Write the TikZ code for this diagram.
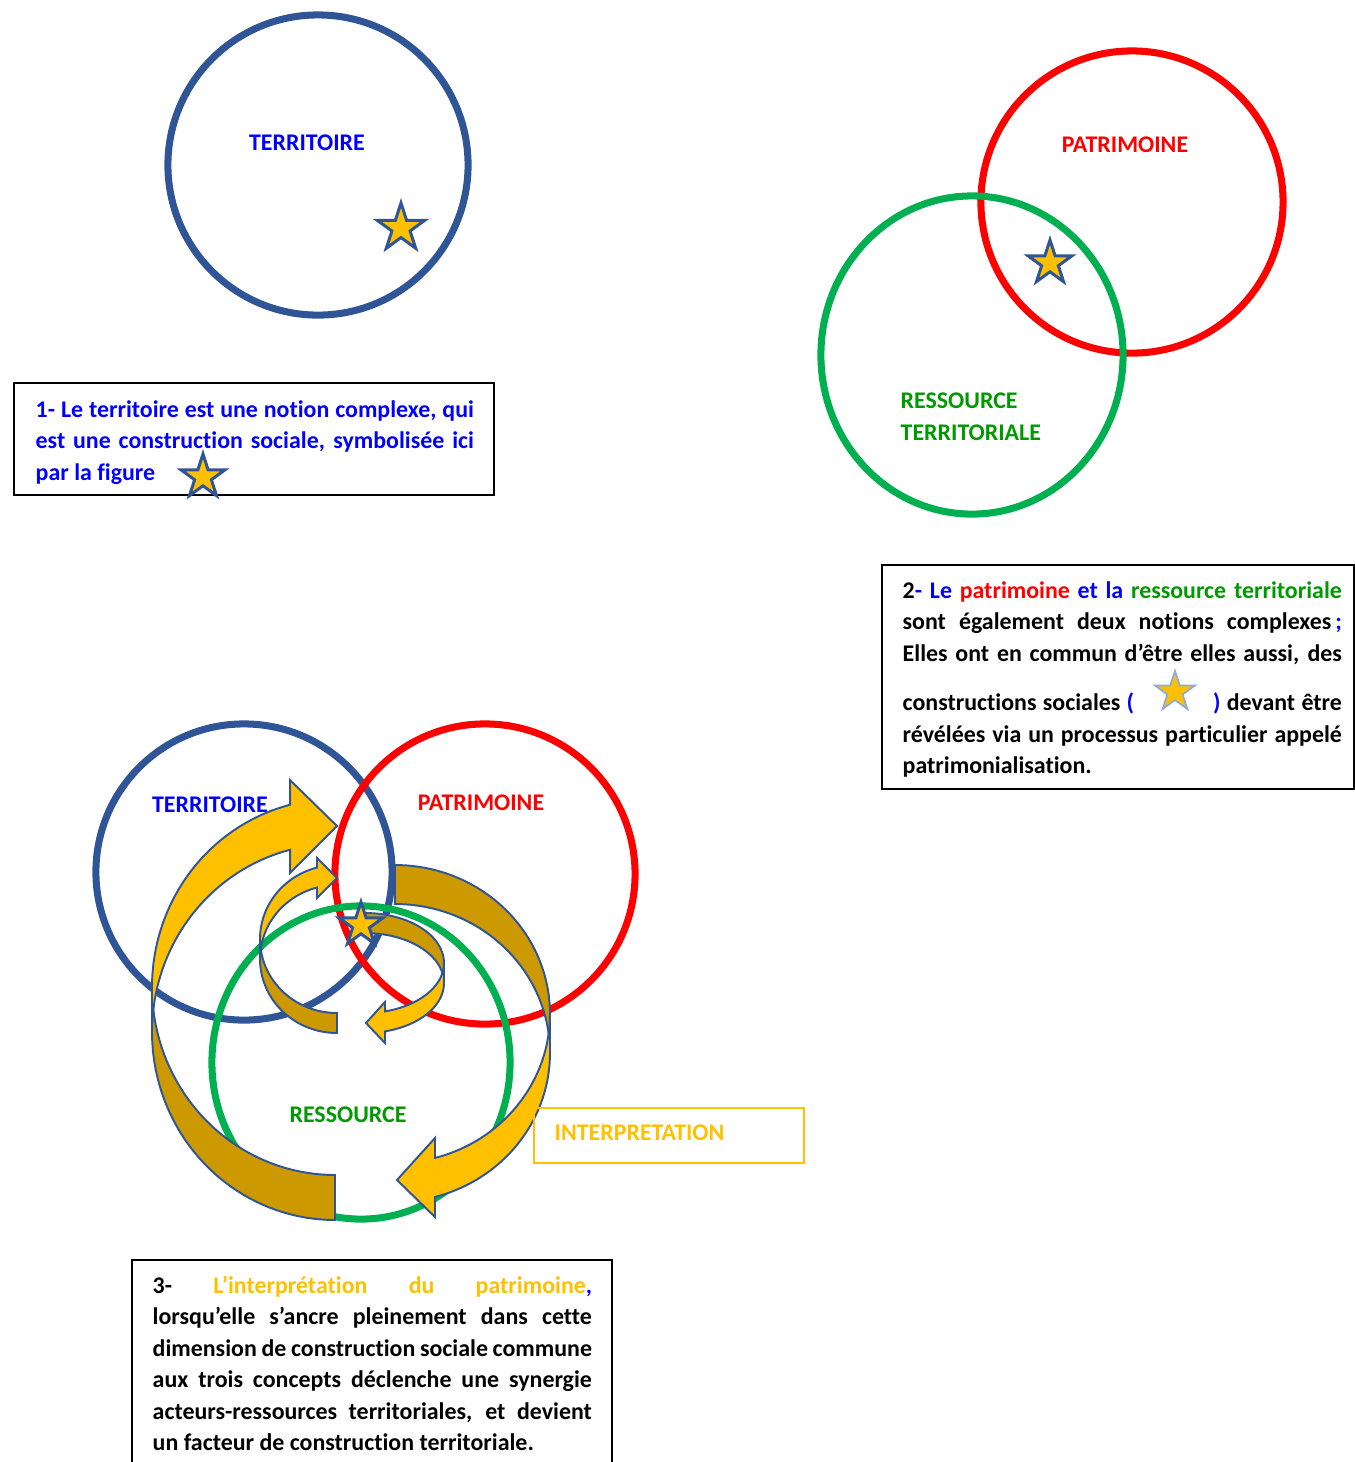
\documentclass[tikz,border=0pt]{standalone}
\usepackage{fontspec}
\setmainfont{Carlito}[Ligatures=NoCommon]
\usetikzlibrary{shapes.geometric}

\definecolor{ringblue}{RGB}{47,85,151}
\definecolor{ringred}{RGB}{255,0,0}
\definecolor{ringgreen}{RGB}{0,176,80}
\definecolor{txtblue}{RGB}{0,0,255}
\definecolor{txtgreen}{RGB}{0,153,0}
\definecolor{gold}{RGB}{255,192,0}
\definecolor{bronze}{RGB}{204,153,0}
\definecolor{paleblue}{RGB}{143,170,220}

\hyphenpenalty=10000
\exhyphenpenalty=10000
\tolerance=10000

\begin{document}
\begin{tikzpicture}[x=0.01cm, y=-0.01cm]
  % --- Styles (1 unit = 1 pixel of the original) ---
    \tikzset{
      ring/.style      = {line width=2pt},
      lbl/.style       = {font=\fontsize{6.8pt}{8.96pt}\selectfont\bfseries, inner sep=0pt},
      txt/.style       = {lbl, text width=4.39cm, align=justify, anchor=base west},
      boxline/.style   = {draw=black, line width=0.6pt},
      bandfront/.style = {fill=gold, draw=ringblue, line width=0.55pt},
      bandback/.style  = {fill=bronze, draw=ringblue, line width=0.55pt},
      starmark/.style  = {star, star points=5, star point ratio=2.618, inner sep=0pt,
                          fill=gold, draw=ringblue, line width=0.85pt}
    }
  \useasboundingbox (0,0) rectangle (1355,1462);

  % --- 1: territoire alone ---
    \draw[ring, ringblue] (318,165) circle[radius=1.5cm];
    \node[lbl, text=txtblue] (terrA) at (307,143) {TERRITOIRE};
    \node[starmark, minimum size=0.5cm] (starA) at (401,228) {};

    \draw[boxline] (14,383) rectangle (494,495);
    \node[txt, text width=4.38cm, text=txtblue] (noteA) at (35,417)
      {1- Le territoire est une notion complexe, qui\linebreak
       est une construction sociale, symbolisée ici\linebreak
       par la figure};
    \node[starmark, minimum size=0.46cm] (starNoteA) at (203,477) {};

  % --- 2: patrimoine and ressource territoriale ---
    \draw[ring, ringred] (1132,202) circle[radius=1.51cm];
    \draw[ring, ringgreen] (972,355) ellipse[x radius=1.51cm, y radius=1.59cm];
    \node[lbl, text=ringred] (patB) at (1125,145) {PATRIMOINE};
    \node[lbl, text=txtgreen, align=left, anchor=west] (resB) at (900,416.5)
      {RESSOURCE\\TERRITORIALE};
    \node[starmark, minimum size=0.46cm] (starB) at (1050,263) {};

    \draw[boxline] (882,565) rectangle (1354,789);
    \node[txt] (noteB) at (902,598)
      {2\textcolor{txtblue}{- Le} \textcolor{ringred}{patrimoine} \textcolor{txtblue}{et la}
       \textcolor{txtgreen}{ressource territoriale}\linebreak
       sont également deux notions complexes\,\textcolor{txtblue}{;}\linebreak
       Elles ont en commun d’être elles aussi, des\linebreak
       \rule{0pt}{0.43cm}constructions sociales \textcolor{txtblue}{(}\hspace{3.3em}\textcolor{txtblue}{)}
       devant être\linebreak
       révélées via un processus particulier appelé\linebreak
       patrimonialisation.};
    \node[starmark, minimum size=0.42cm, draw=paleblue, line width=0.5pt] (starNoteB) at (1175,692) {};

  % --- 3: the three concepts and the interpretation loops ---
    \draw[ring, ringblue] (244,872) circle[radius=1.48cm];
    \draw[ring, ringred] (485,874) circle[radius=1.5cm];
    \draw[ring, ringgreen] (361,1062.5) ellipse[x radius=1.49cm, y radius=1.565cm];

    % big loop on the left (back part, then front part)
    \filldraw[bandback] (152,987)
      -- plot[domain=180:90, samples=40, variable=\t] ({335+183*cos(\t)}, {987+188*sin(\t)})
      -- plot[domain=90:180, samples=40, variable=\t] ({335+183*cos(\t)}, {1032+188*sin(\t)})
      -- cycle;
    \filldraw[bandfront]
      plot[domain=180:255.8, samples=40, variable=\t] ({335+183*cos(\t)}, {987+188*sin(\t)})
      -- (290,780) -- (337,826) -- (290,873)
      -- plot[domain=255.8:180, samples=40, variable=\t] ({335+183*cos(\t)}, {1032+188*sin(\t)})
      -- cycle;

    % big loop on the right
    \filldraw[bandback]
      plot[domain=270:360, samples=40, variable=\t] ({395+155*cos(\t)}, {1014+149*sin(\t)})
      -- plot[domain=360:270, samples=40, variable=\t] ({395+155*cos(\t)}, {1053+149*sin(\t)})
      -- cycle;
    \filldraw[bandfront]
      plot[domain=0:75.04, samples=40, variable=\t] ({395+155*cos(\t)}, {1014+149*sin(\t)})
      -- (435,1138) -- (397,1180) -- (435,1217)
      -- plot[domain=75.04:0, samples=40, variable=\t] ({395+155*cos(\t)}, {1053+149*sin(\t)})
      -- cycle;

    % small loop on the left
    \filldraw[bandback]
      plot[domain=180:90, samples=30, variable=\t] ({337+77*cos(\t)}, {939+74*sin(\t)})
      -- plot[domain=90:180, samples=30, variable=\t] ({337+77*cos(\t)}, {959+74*sin(\t)})
      -- cycle;
    \filldraw[bandfront]
      plot[domain=180:254.95, samples=30, variable=\t] ({337+77*cos(\t)}, {939+74*sin(\t)})
      -- (317,858) -- (337,878) -- (317,898)
      -- plot[domain=254.95:180, samples=30, variable=\t] ({337+77*cos(\t)}, {959+74*sin(\t)})
      -- cycle;

    % small loop on the right
    \filldraw[bandback]
      plot[domain=270:360, samples=30, variable=\t] ({365+79*cos(\t)}, {963+50*sin(\t)})
      -- plot[domain=360:270, samples=30, variable=\t] ({365+79*cos(\t)}, {983+50*sin(\t)})
      -- cycle;
    \filldraw[bandfront]
      plot[domain=0:75.3, samples=30, variable=\t] ({365+79*cos(\t)}, {963+50*sin(\t)})
      -- (385,1002) -- (366,1023) -- (385,1043)
      -- plot[domain=75.3:0, samples=30, variable=\t] ({365+79*cos(\t)}, {983+50*sin(\t)})
      -- cycle;

    \node[starmark, minimum size=0.46cm] (starC) at (361,925) {};

    \node[lbl, text=txtblue] (terrC) at (210,805) {TERRITOIRE};
    \node[lbl, text=ringred] (patC) at (481,803) {PATRIMOINE};
    \node[lbl, text=txtgreen] (resC) at (348,1115) {RESSOURCE};

    \draw[draw=gold, line width=0.6pt] (534,1108) rectangle (804,1163);
    \node[lbl, text=gold, anchor=west] (interp) at (554,1133) {INTERPRETATION};

    \draw[boxline] (132,1462) -- (132,1260) -- (612,1260) -- (612,1462);
    \node[txt] (noteC) at (152,1293)
      {3- \textcolor{gold}{L’interprétation du patrimoine}\textcolor{txtblue}{,}\linebreak
       lorsqu’elle s’ancre pleinement dans cette\linebreak
       dimension de construction sociale commune\linebreak
       aux trois concepts déclenche une synergie\linebreak
       acteurs-ressources territoriales, et devient\linebreak
       un facteur de construction territoriale.};
\end{tikzpicture}
\end{document}
